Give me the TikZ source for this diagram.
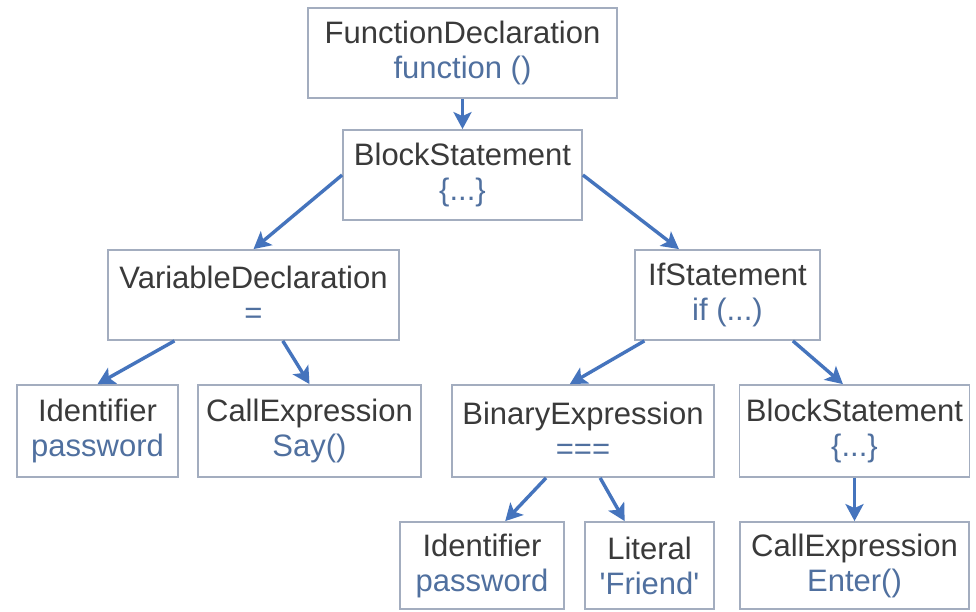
\documentclass[tikz,border=0pt]{standalone}
\usepackage{fontspec}
\setmainfont{Liberation Sans}
\usetikzlibrary{arrows.meta,calc}
\definecolor{boxline}{HTML}{A3ADBF}
\definecolor{maintext}{HTML}{3A3A3A}
\definecolor{subtext}{HTML}{50709F}
\definecolor{arrowc}{HTML}{4574BD}
\begin{document}
\begin{tikzpicture}[x=1pt,y=-1pt,
  astbox/.style={draw=boxline, line width=1.8pt, fill=white, align=center,
    inner sep=0pt, text=maintext, font=\fontsize{31}{35}\selectfont},
  link/.style={draw=arrowc, line width=3.4pt,
    -{Stealth[length=17pt,width=18pt,inset=4pt]}}]
\useasboundingbox (0,0) rectangle (976,612);
\fill[white] (0,0) rectangle (976,612);
\newcommand\sub[1]{\textcolor{subtext}{#1}}
% row 0
\node[astbox, minimum width=309pt, minimum height=90pt] (fd) at (462.5,53) {FunctionDeclaration\\\sub{function ()}};
% row 1
\node[astbox, minimum width=239pt, minimum height=90pt] (bsa) at (462.5,175) {BlockStatement\\\sub{\{...\}}};
% row 2
\node[astbox, minimum width=291pt, minimum height=90pt] (vd) at (253.5,295) {VariableDeclaration\\\sub{=}};
\node[astbox, minimum width=185pt, minimum height=90pt] (ifs) at (727.5,295) {IfStatement\\\sub{if (...)}};
% row 3
\node[astbox, minimum width=161pt, minimum height=92pt] (ida) at (97.5,431) {Identifier\\\sub{password}};
\node[astbox, minimum width=223pt, minimum height=92pt] (say) at (309.5,431) {CallExpression\\\sub{Say()}};
\node[astbox, minimum width=262pt, minimum height=92pt] (bin) at (583,431) {BinaryExpression\\\sub{===}};
\node[astbox, minimum width=230pt, minimum height=92pt] (bsb) at (854.5,431) {BlockStatement\\\sub{\{...\}}};
% row 4
\node[astbox, minimum width=164pt, minimum height=87pt] (idb) at (482,565.5) {Identifier\\\sub{password}};
\node[astbox, minimum width=129pt, minimum height=87pt] (lit) at (649.5,565.5) {Literal\\\sub{\textquotesingle Friend\textquotesingle}};
\node[astbox, minimum width=229pt, minimum height=87pt] (ent) at (854.5,565.5) {CallExpression\\\sub{Enter()}};
% connectors
\draw[link] (fd.south) -- (bsa.north);
\draw[link] (bsa.west) -- (vd.north);
\draw[link] (bsa.east) -- ($(ifs.north west)!0.24!(ifs.north east)$);
\draw[link] ($(vd.south west)!0.23!(vd.south east)$) -- (ida.north);
\draw[link] ($(vd.south west)!0.6!(vd.south east)$) -- (say.north);
\draw[link] ($(ifs.south west)!0.055!(ifs.south east)$) -- ($(bin.north west)!0.45!(bin.north east)$);
\draw[link] ($(ifs.south west)!0.85!(ifs.south east)$) -- ($(bsb.north west)!0.45!(bsb.north east)$);
\draw[link] ($(bin.south west)!0.36!(bin.south east)$) -- ($(idb.north west)!0.64!(idb.north east)$);
\draw[link] ($(bin.south west)!0.565!(bin.south east)$) -- ($(lit.north west)!0.31!(lit.north east)$);
\draw[link] (bsb.south) -- (ent.north);
\end{tikzpicture}
\end{document}
